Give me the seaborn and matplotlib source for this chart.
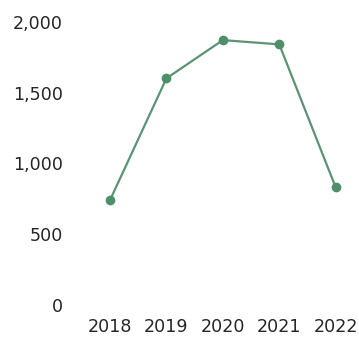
import matplotlib
matplotlib.use("Agg")
import matplotlib.pyplot as plt
import seaborn as sns
import pandas as pd
from matplotlib.ticker import FuncFormatter

years = [2018, 2019, 2020, 2021, 2022]
values = [740, 1600, 1870, 1840, 830]
y_ticks = [0, 500, 1000, 1500, 2000]

sns.set_style("white")
plt.rcParams['font.family'] = ['DejaVu Sans']

df = pd.DataFrame({"year": years, "value": values})

fig = plt.figure(figsize=(3.59, 3.37), dpi=100)
ax = fig.add_axes([110/359, (337-305)/337, 225.7/359, (305-21.7)/337])

sns.lineplot(data=df, x="year", y="value", ax=ax, color="#5a9474", linewidth=1.6,
             marker="o", markersize=7, markeredgewidth=0, markerfacecolor="#4e8f6a",
             clip_on=False)

ax.set_xlim(2018, 2022)
ax.set_ylim(0, 2000)
ax.set_xticks(years)
ax.set_xticklabels([str(y) for y in years])
ax.set_yticks(y_ticks)
ax.yaxis.set_major_formatter(FuncFormatter(lambda v, p: f"{int(v):,}"))
ax.tick_params(axis="both", length=0, labelsize=12.6, colors="#262626")
ax.tick_params(axis="y", pad=34)
ax.tick_params(axis="x", pad=9)
for lbl in ax.get_yticklabels() + ax.get_xticklabels():
    lbl.set_fontweight("medium")
for lbl in ax.get_yticklabels():
    lbl.set_horizontalalignment("right")
ax.set_xlabel("")
ax.set_ylabel("")
for s in ax.spines.values():
    s.set_visible(False)
ax.grid(False)
for line in ax.lines:
    line.set_clip_on(False)

fig.savefig("out.png", dpi=100)
